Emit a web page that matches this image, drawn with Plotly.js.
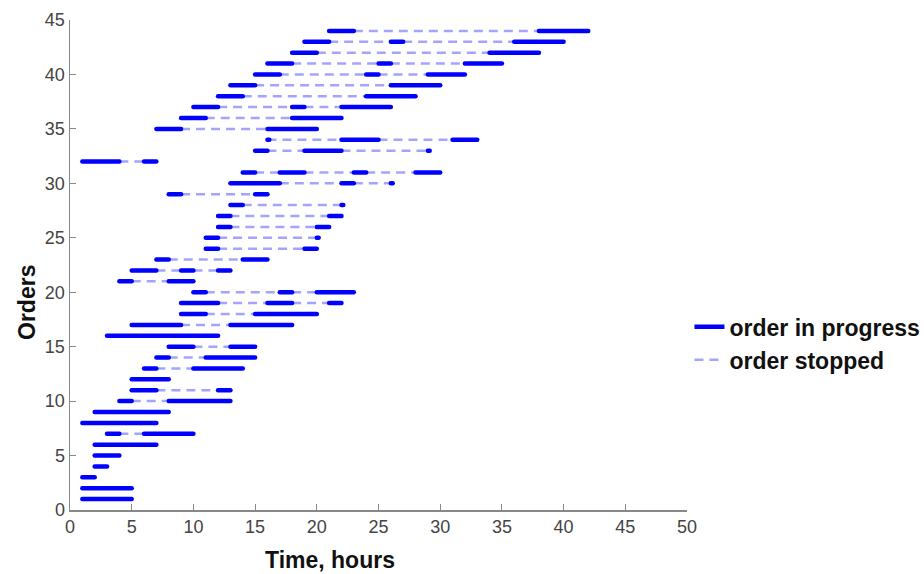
<!DOCTYPE html>
<html>
<head>
<meta charset="utf-8">
<script src="https://cdn.plot.ly/plotly-3.0.1.min.js"></script>
<style>html,body{margin:0;padding:0;background:#fff}#chart{width:924px;height:574px}</style>
</head>
<body>
<div id="chart"></div>
<script>
// "order in progress" segments: order number, start hour, end hour
const progressOrder = [1,2,3,4,5,6,7,7,8,9,10,10,11,11,12,13,13,14,14,15,15,16,17,17,18,18,
  19,19,19,20,20,20,21,21,22,22,22,23,23,24,24,25,25,26,26,27,27,28,28,29,29,
  30,30,30,31,31,31,31,32,32,33,33,33,34,34,34,35,35,36,36,37,37,37,38,38,39,39,
  40,40,40,41,41,41,42,42,43,43,43,44,44];
const progressStart = [1,1,1,2,2,2,3,6,1,2,4,8,5,12,5,6,10,7,11,8,13,3,5,13,9,15,
  9,16,21,10,17,20,4,8,5,9,12,7,14,11,19,11,20,12,20,12,21,13,22,8,15,
  13,22,26,14,17,23,28,1,6,15,19,29,16,22,31,7,16,9,18,10,18,22,12,24,13,26,
  15,24,29,16,25,32,18,34,19,26,36,21,38];
const progressEnd = [5,5,2,3,4,7,4,10,7,8,5,13,7,13,8,7,14,8,15,10,15,12,9,18,11,20,
  12,18,22,11,18,23,5,10,7,10,13,8,16,12,20,12,20.15,13,21,13,22,14,22.15,9,16,
  17,23,26.15,15,19,24,30,4,7,16,22,29.15,16.15,25,33,9,20,11,22,12,19,26,14,28,15,30,
  17,25,32,18,26,35,20,38,21,27,40,23,42];

// "order stopped" segments: order number, start hour, end hour
const stopOrder = [7,10,11,13,14,15,17,18,19,19,20,20,21,22,22,23,24,25,26,27,28,29,
  30,30,31,31,31,32,33,33,34,34,35,36,37,37,38,39,40,40,41,41,42,43,43,44];
const stopStart = [4,5,7,7,8,10,9,11,12,18,11,18,5,7,10,8,12,12,13,13,14,9,
  17,23,15,19,24,4,16,22,16,25,9,11,12,19,14,15,17,25,18,26,20,21,27,23];
const stopEnd = [6,8,12,10,11,13,13,15,16,21,17,20,8,9,12,14,19,20,20,21,22,15,
  22,26,17,23,28,6,19,29,22,31,16,18,18,22,24,26,24,29,25,32,34,26,36,38];

const xTickVals = [0,5,10,15,20,25,30,35,40,45,50];
const yTickVals = [0,5,10,15,20,25,30,35,40,45];

function buildXY(orders, starts, ends) {
  const x = [], y = [];
  for (let i = 0; i < orders.length; i++) {
    x.push(starts[i], ends[i], null);
    y.push(orders[i], orders[i], null);
  }
  return {x, y};
}

const prog = buildXY(progressOrder, progressStart, progressEnd);
const stop = buildXY(stopOrder, stopStart, stopEnd);

const progTrace = {
  x: prog.x, y: prog.y, type: 'scatter', mode: 'lines',
  name: 'order in progress', connectgaps: false,
  line: {color: '#0000ff', width: 4.5}
};
const stopTrace = {
  x: stop.x, y: stop.y, type: 'scatter', mode: 'lines',
  name: 'order stopped', connectgaps: false,
  line: {color: 'rgba(90,90,255,0.55)', width: 2.5, dash: '9px,6px'}
};
// draw stopped under progress
const data = [stopTrace, progTrace];

const fam = 'Liberation Sans, Arial, sans-serif';
const tickFont = {family: fam, size: 18, color: '#444'};
const titleFont = {family: fam, size: 23, color: '#111', weight: 'bold'};

const layout = {
  width: 924, height: 574,
  margin: {l: 70, r: 237, t: 20, b: 64, pad: 0, autoexpand: false},
  paper_bgcolor: '#fff', plot_bgcolor: '#fff',
  showlegend: true,
  legend: {
    x: 1.004, y: 0.34, xanchor: 'left', yanchor: 'middle',
    traceorder: 'reversed',
    font: {family: fam, size: 23, color: '#111', weight: 'bold'},
    bgcolor: 'rgba(0,0,0,0)', borderwidth: 0, tracegroupgap: 0
  },
  xaxis: {
    range: [0, 50], tickvals: xTickVals, ticks: 'inside', ticklen: 6,
    tickcolor: '#888', showline: true, linecolor: '#888', linewidth: 1.5,
    showgrid: false, zeroline: false, tickfont: tickFont, automargin: false
  },
  yaxis: {
    range: [0, 45], tickvals: yTickVals, ticks: 'inside', ticklen: 6,
    tickcolor: '#888', showline: true, linecolor: '#888', linewidth: 1.5,
    showgrid: false, zeroline: false, tickfont: tickFont, automargin: false
  },
  annotations: [
    {text: 'Time, hours', xref: 'paper', yref: 'paper', x: 0.4214, y: -0.102,
     xanchor: 'center', yanchor: 'middle', showarrow: false, font: titleFont},
    {text: 'Orders', xref: 'paper', yref: 'paper', x: -0.0697, y: 0.4245,
     xanchor: 'center', yanchor: 'middle', showarrow: false, textangle: -90, font: titleFont}
  ]
};

Plotly.newPlot('chart', data, layout, {displayModeBar: false, staticPlot: true}).then(function(gd) {
  const lines = gd.querySelectorAll('.scatterlayer .trace');
  if (lines.length > 1) {
    lines[1].querySelectorAll('path.js-line').forEach(function(p) {
      p.style.strokeLinecap = 'round';
    });
  }
});
</script>
</body>
</html>
